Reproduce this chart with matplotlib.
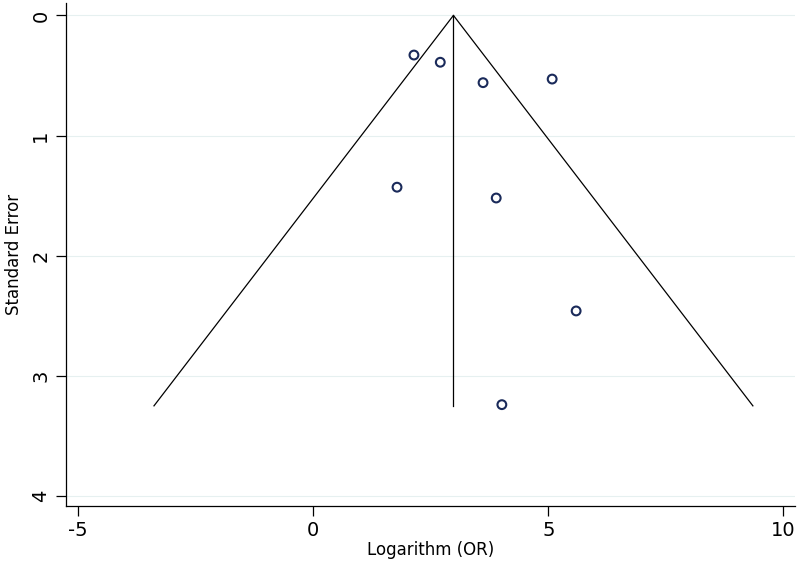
import numpy as np
import matplotlib
matplotlib.use("Agg")
import matplotlib.pyplot as plt

# study estimates
log_or = [2.14, 2.70, 3.61, 5.08, 1.78, 3.89, 5.59, 4.01]
std_err = [0.33, 0.39, 0.56, 0.53, 1.43, 1.52, 2.46, 3.24]

# pooled estimate and funnel limits
pooled = 2.98
se_max = 3.25

x_ticks = [-5, 0, 5, 10]
y_ticks = [0, 1, 2, 3, 4]

fig = plt.figure(figsize=(8, 5.63), dpi=100)
ax = fig.add_axes([0.082, 0.102, 0.912, 0.892])

# gridlines at y ticks
for t in y_ticks:
    ax.axhline(t, color="#e6f0f0", lw=0.8, zorder=0)

# funnel (95% limits)
ax.plot([pooled - 1.96 * se_max, pooled, pooled + 1.96 * se_max],
        [se_max, 0, se_max], color="black", lw=0.9)
ax.plot([pooled, pooled], [0, se_max], color="black", lw=0.9)

ax.scatter(log_or, std_err, s=40, facecolors="none", edgecolors="#1a2a5a",
           linewidths=1.5, zorder=3)

ax.set_xlim(-5.27, 10.25)
ax.set_ylim(4.08, -0.10)
ax.set_xticks(x_ticks)
ax.set_yticks(y_ticks)
ax.set_xticklabels([str(t) for t in x_ticks], fontsize=14)
ax.set_yticklabels([str(t) for t in y_ticks], fontsize=14, rotation=90, va="center")
ax.tick_params(length=7, width=0.9, pad=4)
ax.spines["top"].set_visible(False)
ax.spines["right"].set_visible(False)
ax.spines["left"].set_linewidth(0.9)
ax.spines["bottom"].set_linewidth(0.9)
ax.set_xlabel("Logarithm (OR)", fontsize=12, labelpad=1)
ax.set_ylabel("Standard Error", fontsize=12, labelpad=6)

fig.savefig("out.png", dpi=100)
